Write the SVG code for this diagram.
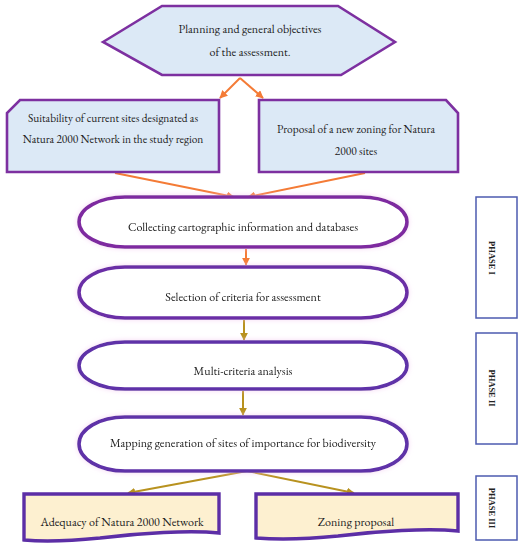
<svg xmlns="http://www.w3.org/2000/svg" width="523" height="550" viewBox="0 0 523 550">
<defs>
<style>
.t{font-family:"EB Garamond","Liberation Serif","Times New Roman",serif;font-size:12px;fill:#222;text-anchor:middle}
.s{font-size:11.4px}
.p{font-family:"Liberation Serif","Times New Roman",serif;font-size:8.5px;font-weight:bold;fill:#222;text-anchor:middle}
.blue{fill:#dce9f6;stroke:#7d30a0;stroke-width:2.6}
.stad{fill:#fff;stroke-width:3.6}
.cream{fill:#fdf0d0;stroke:#5c2ea6;stroke-width:3.4}
.phase{fill:#fff;stroke:#4c5bb0;stroke-width:1.5}
.ao{stroke:#f47b36;stroke-width:2;fill:none}
.ag{stroke:#b8921f;stroke-width:2;fill:none}
</style>
<marker id="mo" viewBox="0 0 10 10" refX="9" refY="5" markerWidth="8" markerHeight="8" markerUnits="userSpaceOnUse" orient="auto"><path d="M0,0 L10,5 L0,10 z" fill="#f47b36"/></marker>
<marker id="mg" viewBox="0 0 10 10" refX="9" refY="5" markerWidth="8" markerHeight="8" markerUnits="userSpaceOnUse" orient="auto"><path d="M0,0 L10,5 L0,10 z" fill="#b8921f"/></marker>
<filter id="glow" x="-10%" y="-30%" width="120%" height="160%"><feDropShadow dx="0" dy="0" stdDeviation="2.5" flood-color="#f2c6f0" flood-opacity="0.7"/></filter>
</defs>
<rect width="523" height="550" fill="#fff"/>

<g id="connectors">
<line class="ao" x1="240" y1="78" x2="220" y2="98" marker-end="url(#mo)"/>
<line class="ao" x1="240" y1="78" x2="263" y2="98" marker-end="url(#mo)"/>
<line class="ao" x1="115" y1="173" x2="234" y2="197" marker-end="url(#mo)"/>
<line class="ao" x1="365" y1="173" x2="248" y2="197" marker-end="url(#mo)"/>
<line class="ao" x1="246" y1="249" x2="246" y2="265" marker-end="url(#mo)"/>
<line class="ag" x1="244" y1="320" x2="244" y2="340" marker-end="url(#mg)"/>
<line class="ag" x1="243" y1="391" x2="243" y2="415" marker-end="url(#mg)"/>
<line class="ag" x1="247" y1="471" x2="128" y2="493" marker-end="url(#mg)"/>
<line class="ag" x1="247" y1="471" x2="354" y2="493" marker-end="url(#mg)"/>
</g>

<g id="n-planning">
<polygon class="blue" stroke-width="3" points="103,42 162,6 338,6 395,42 341,75 162,75"/>
<text class="t" x="250" y="33">Planning and general objectives</text>
<text class="t" x="250" y="56">of the assessment.</text>
</g>

<g id="n-suitability">
<polygon class="blue" points="20,100 219,100 219,172 7,172 7,113"/>
<text class="t s" x="113" y="122">Suitability of current sites designated as</text>
<text class="t s" x="113" y="143">Natura 2000 Network in the study region</text>
</g>

<g id="n-proposal">
<polygon class="blue" points="259,100 446,100 458,113 458,172 259,172"/>
<text class="t s" x="356" y="133">Proposal of a new zoning for Natura</text>
<text class="t s" x="356" y="155">2000 sites</text>
</g>

<g id="n-collecting" filter="url(#glow)">
<rect class="stad" stroke="#7e2aa0" x="79" y="197" width="328" height="50" rx="46" ry="25"/>
<text class="t" x="243" y="231">Collecting cartographic information and databases</text>
</g>

<g id="n-selection" filter="url(#glow)">
<rect class="stad" stroke="#6a2fa6" x="79" y="267" width="328" height="51" rx="46" ry="25.5"/>
<text class="t" x="243" y="301">Selection of criteria for assessment</text>
</g>

<g id="n-multi" filter="url(#glow)">
<rect class="stad" stroke="#5e31a8" x="79" y="342" width="328" height="47" rx="46" ry="23.5"/>
<text class="t" x="243" y="375">Multi-criteria analysis</text>
</g>

<g id="n-mapping" filter="url(#glow)">
<rect class="stad" stroke="#5e31a8" x="79" y="417" width="328" height="54" rx="46" ry="27"/>
<text class="t" x="243" y="447">Mapping generation of sites of importance for biodiversity</text>
</g>

<g id="n-adequacy">
<path class="cream" d="M24,494 H219 V533 C190,530 140,533 100,538 C70,541 45,542 24,540 Z"/>
<text class="t" x="122" y="526">Adequacy of Natura 2000 Network</text>
</g>

<g id="n-zoning">
<path class="cream" d="M256,494 H458 V531 C428,528 378,531 338,536 C308,539 282,540 256,538 Z"/>
<text class="t" x="356" y="526">Zoning proposal</text>
</g>

<g id="phase1">
<rect class="phase" x="476" y="197" width="41" height="121"/>
<text class="p" transform="translate(489,258) rotate(90)">PHASE I</text>
</g>
<g id="phase2">
<rect class="phase" x="476" y="333" width="41" height="111"/>
<text class="p" transform="translate(489,388) rotate(90)">PHASE II</text>
</g>
<g id="phase3">
<rect class="phase" x="476" y="476" width="41" height="64"/>
<text class="p" transform="translate(489,508) rotate(90)">PHASE III</text>
</g>
</svg>
